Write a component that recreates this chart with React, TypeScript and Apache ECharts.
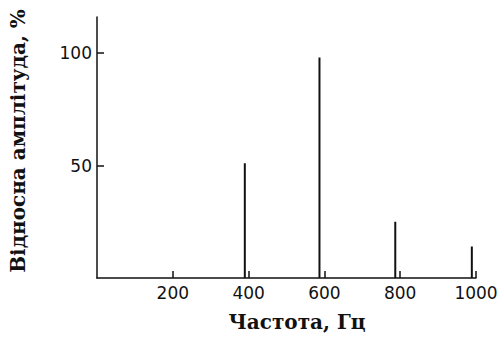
import React, { useEffect, useRef } from "react";
import * as echarts from "echarts";

const frequencies = [390, 587, 787, 989];
const amplitudes = [51, 98, 25, 14];
const xTicks = [200, 400, 600, 800, 1000];
const yTicks = [50, 100];
const xTitle = "Частота, Гц";
const yTitle = "Відносна амплітуда, %";

export default function App() {
  const ref = useRef<HTMLDivElement>(null);
  useEffect(() => {
    if (!ref.current) return;
    const chart = echarts.init(ref.current, null, { renderer: "svg" });
    const ink = "#111";
    chart.setOption({
      animation: false,
      backgroundColor: "#fff",
      grid: { left: 97, right: 25, top: 17, bottom: 63, containLabel: false },
      xAxis: {
        type: "value",
        min: 0,
        max: 1000,
        interval: 200,
        splitLine: { show: false },
        axisLine: { show: true, lineStyle: { color: ink, width: 1.5 } },
        axisTick: { show: true, inside: true, length: 7, lineStyle: { color: ink, width: 1.5 }, customValues: xTicks },
        axisLabel: {
          color: ink,
          fontFamily: "DejaVu Sans",
          fontSize: 17,
          margin: 6,
          customValues: xTicks,
          formatter: (v: number) => String(v),
        },
      },
      yAxis: {
        type: "value",
        min: 0,
        max: 116,
        interval: 50,
        splitLine: { show: false },
        axisLine: { show: true, lineStyle: { color: ink, width: 1.5 } },
        axisTick: { show: true, inside: true, length: 7, lineStyle: { color: ink, width: 1.5 }, customValues: yTicks },
        axisLabel: {
          color: ink,
          fontFamily: "DejaVu Sans",
          fontSize: 17,
          margin: 5,
          customValues: yTicks,
          formatter: (v: number) => String(v),
        },
      },
      series: [
        {
          type: "bar",
          barWidth: 2,
          itemStyle: { color: ink },
          data: frequencies.map((f, i) => [f, amplitudes[i]]),
        },
      ],
      graphic: [
        {
          type: "text",
          x: 297,
          y: 332,
          style: {
            text: xTitle,
            fill: ink,
            font: "bold 20px 'DejaVu Serif'",
            textAlign: "center",
            textVerticalAlign: "bottom",
          },
        },
        {
          type: "text",
          x: 8,
          y: 141,
          rotation: Math.PI / 2,
          style: {
            text: yTitle,
            fill: ink,
            font: "bold 20px 'DejaVu Serif'",
            textAlign: "center",
            textVerticalAlign: "top",
          },
        },
      ],
    });
    return () => chart.dispose();
  }, []);
  return <div ref={ref} style={{ width: 501, height: 341, position: "absolute", left: 0, top: 0 }} />;
}
